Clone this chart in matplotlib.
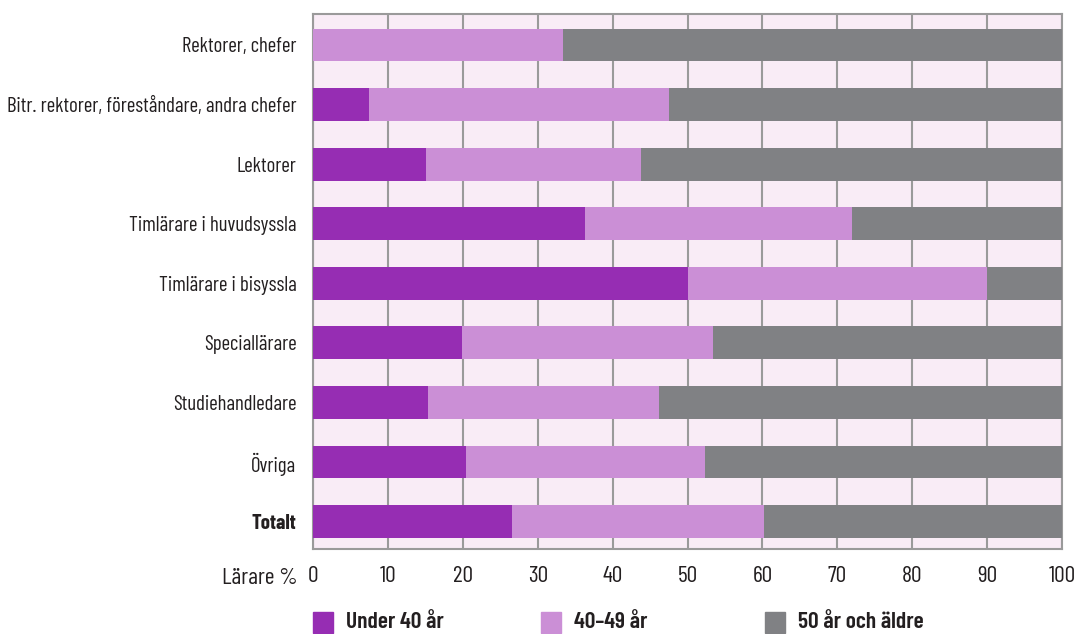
import matplotlib.pyplot as plt
from matplotlib.patches import Rectangle

plt.rcParams['font.family'] = ['Barlow Condensed', 'DejaVu Sans']

# Data (percent of teachers by age group)
categories = ["Rektorer, chefer",
              "Bitr. rektorer, föreståndare, andra chefer",
              "Lektorer",
              "Timlärare i huvudsyssla",
              "Timlärare i bisyssla",
              "Speciallärare",
              "Studiehandledare",
              "Övriga",
              "Totalt"]
under40 = [0.0, 7.5, 15.1, 36.3, 50.1, 19.9, 15.4, 20.4, 26.6]
age40_49 = [33.4, 40.0, 28.7, 35.7, 39.9, 33.5, 30.8, 31.9, 33.6]
age50plus = [66.6, 52.5, 56.2, 28.0, 10.0, 46.6, 53.8, 47.7, 39.8]
series_labels = ["Under 40 år", "40\u201349 år", "50 år och äldre"]
xticks = [0, 10, 20, 30, 40, 50, 60, 70, 80, 90, 100]

c_dark = '#962db3'
c_light = '#cb8fd6'
c_grey = '#808184'
txt = '#231f20'

fig = plt.figure(figsize=(10.8, 6.34), dpi=100)
ax = fig.add_axes([313/1080, 1-549/634, (1062-313)/1080, (549-14)/634])
ax.set_facecolor('#f9ecf6')

y = range(len(categories))
left2 = [a for a in under40]
left3 = [a + b for a, b in zip(under40, age40_49)]
h = 0.55
ax.barh(y, under40, height=h, color=c_dark, zorder=3)
ax.barh(y, age40_49, left=left2, height=h, color=c_light, zorder=3)
ax.barh(y, age50plus, left=left3, height=h, color=c_grey, zorder=3)

ax.set_xlim(0, 100)
ax.set_ylim(8.46, -0.52)
ax.set_xticks(xticks)
ax.set_xticklabels([str(t) for t in xticks], fontsize=17, color=txt)
ax.set_yticks(list(y))
ax.set_yticklabels(categories, fontsize=15, color=txt)
ax.get_yticklabels()[-1].set_fontweight('bold')
ax.tick_params(axis='both', length=0)
ax.tick_params(axis='x', pad=12)
ax.tick_params(axis='y', pad=12)

ax.grid(axis='x', color='#9a9a9a', linewidth=1.5, zorder=1)
ax.grid(axis='y', visible=False)
for s in ax.spines.values():
    s.set_color('#9a9a9a')
    s.set_linewidth(1.5)

fig.text(297/1080, 1-578/634, "Lärare %", ha='right', va='center', fontsize=17, color=txt)

# legend
for x0, lab, col in zip([313, 541, 765], series_labels, [c_dark, c_light, c_grey]):
    fig.add_artist(Rectangle((x0/1080, 1-633/634), 20/1080, 21/634,
                             transform=fig.transFigure, color=col))
    fig.text((x0+33)/1080, 1-622/634, lab, ha='left', va='center',
             fontsize=17, fontweight='semibold', color=txt)

plt.savefig('out.png', dpi=100)
